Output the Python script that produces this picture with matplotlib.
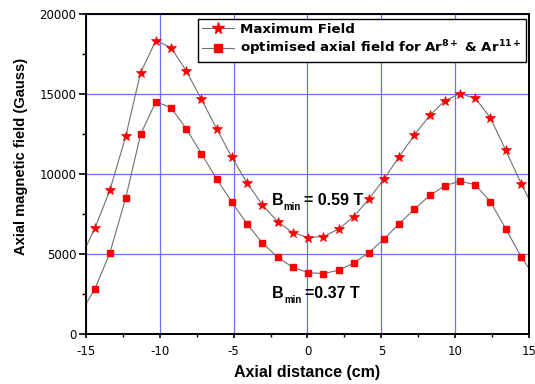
import matplotlib
matplotlib.use("Agg")
import matplotlib.pyplot as plt
from matplotlib.ticker import MultipleLocator

plt.rcParams['font.family'] = ['DejaVu Sans']
plt.rcParams['axes.unicode_minus'] = False
plt.rcParams['mathtext.fontset'] = 'custom'
plt.rcParams['mathtext.bf'] = 'DejaVu Sans:bold'
plt.rcParams['mathtext.rm'] = 'DejaVu Sans:bold'
plt.rcParams['mathtext.default'] = 'bf'

# Axial positions of the measured points (cm)
axial_cm = [-14.39, -13.38, -12.31, -11.30, -10.27, -9.24, -8.21, -7.18, -6.15, -5.12,
            -4.08, -3.06, -2.03, -1.01, 0.05, 1.07, 2.11, 3.12, 4.15, 5.18,
            6.20, 7.24, 8.28, 9.30, 10.32, 11.37, 12.39, 13.43, 14.47]

max_field = [6606, 8981, 12331, 16312, 18312, 17875, 16419, 14644, 12812, 11019,
             9419, 8062, 7019, 6331, 6019, 6081, 6544, 7312, 8419, 9660,
             11062, 12419, 13644, 14562, 15000, 14706, 13481, 11456, 9375]

opt_field = [2831, 5062, 8481, 12456, 14500, 14125, 12812, 11250, 9669, 8231,
             6856, 5687, 4794, 4169, 3831, 3769, 3981, 4419, 5081, 5919,
             6875, 7794, 8644, 9250, 9544, 9312, 8250, 6562, 4812]

# curve continuation to the plot edges (line only, no markers)
edge_x = [-15.0, 15.0]
max_edge = [5450, 8420]
opt_edge = [1880, 4100]

x_ticks = [-15, -10, -5, 0, 5, 10, 15]
y_ticks = [0, 5000, 10000, 15000, 20000]

fig = plt.figure(figsize=(5.35, 3.84), dpi=100)
ax = fig.add_axes([0.1607, 0.1302, 0.8281, 0.8346])

line_col = '#707070'
red = '#ff0000'

ax.plot([edge_x[0]] + axial_cm + [edge_x[1]], [max_edge[0]] + max_field + [max_edge[1]],
        color=line_col, lw=0.8, zorder=2)
ax.plot([edge_x[0]] + axial_cm + [edge_x[1]], [opt_edge[0]] + opt_field + [opt_edge[1]],
        color=line_col, lw=0.8, zorder=2)
ax.plot(axial_cm, max_field, ls='none', marker='*', ms=7, color=red, mec=red, mew=0.5, zorder=3)
ax.plot(axial_cm, opt_field, ls='none', marker='s', ms=4.3, color=red, mec=red, zorder=3)

# legend proxies
h1, = ax.plot([], [], color=line_col, lw=0.8, marker='*', ms=8.5, mfc=red, mec=red)
h2, = ax.plot([], [], color=line_col, lw=0.8, marker='s', ms=5.5, mfc=red, mec=red)
leg = ax.legend([h1, h2], ['Maximum Field',
                           r'optimised axial field for Ar$^{8+}$ & Ar$^{11+}$'],
                loc='upper right', bbox_to_anchor=(0.993, 0.983), borderaxespad=0,
                fancybox=False, framealpha=1, edgecolor='black',
                prop={'weight': 'bold', 'size': 9.6}, handlelength=2.4,
                borderpad=0.3, labelspacing=0.2, handletextpad=0.45)
leg.get_frame().set_linewidth(1.0)

ax.set_xlim(-15, 15)
ax.set_ylim(0, 20000)
ax.set_xticks(x_ticks)
ax.set_yticks(y_ticks)
ax.xaxis.set_minor_locator(MultipleLocator(2.5))
ax.yaxis.set_minor_locator(MultipleLocator(2500))
ax.tick_params(which='both', labelsize=8.5)
ax.tick_params(axis='x', which='major', direction='out', length=3, width=1.2, pad=5)
ax.tick_params(axis='x', which='minor', direction='out', length=2.5, width=1.0)
ax.tick_params(axis='y', which='major', direction='out', length=5, width=1.2, pad=2)
ax.tick_params(axis='y', which='minor', direction='out', length=3, width=1.0)
ax.grid(True, which='major', color='#6f6fff', lw=0.9)
ax.set_axisbelow(True)
for s in ax.spines.values():
    s.set_linewidth(1.4)

ax.set_xlabel('Axial distance (cm)', fontsize=11.5, fontweight='bold',
              family='Liberation Sans', labelpad=5)
ax.set_ylabel('Axial magnetic field (Gauss)', fontsize=10.6, fontweight='bold',
              family='Liberation Sans')
ax.yaxis.set_label_coords(-0.13, 0.555)

afont = dict(family='Liberation Sans', fontweight='bold')

def bmin_label(x, y, rest):
    tb = ax.text(x, y, 'B', fontsize=11.5, **afont)
    tm = ax.annotate('min', xy=(1, 0), xycoords=tb, xytext=(0.3, -1.6),
                     textcoords='offset points', fontsize=7, **afont)
    ax.annotate(rest, xy=(1, 0), xycoords=tm, xytext=(2.0, 5.4),
                textcoords='offset points', fontsize=11.5, **afont)

bmin_label(-2.42, 8060, '= 0.59 T')
bmin_label(-2.38, 2250, '=0.37 T')

fig.savefig('out.png', dpi=100)
